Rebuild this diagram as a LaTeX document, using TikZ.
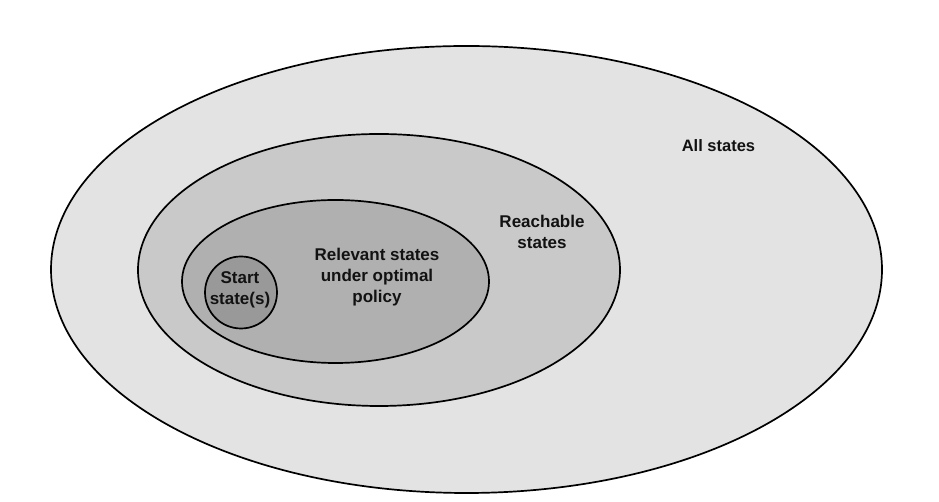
\documentclass[tikz,border=0pt]{standalone}
\usepackage{fontspec}
\setmainfont{Liberation Sans}
\usepackage{tikz}
\usetikzlibrary{positioning}

\begin{document}
\begin{tikzpicture}[x=1pt, y=1pt,
    region/.style={draw=black, line width=1.7pt},
    lbl/.style={font=\fontsize{17}{20.7}\selectfont\bfseries, text=black!93, align=center}]
    \useasboundingbox[fill=white] (0,0) rectangle (939,502);

    % Nested sets of states
    \draw[region, fill=black!11] (466.5,232.5) ellipse (415.5 and 223.5);
    \draw[region, fill=black!21] (379,232) ellipse (241 and 136);
    \draw[region, fill=black!31] (335.5,220.5) ellipse (153.5 and 81.5);
    \draw[region, fill=black!40] (241,209.5) circle (36);

    % Labels
    \node[lbl, font=\fontsize{16.5}{20}\selectfont\bfseries, anchor=base] (all) at (718.5,350) {All states};
    \node[lbl] (reach) at (542,270) {Reachable\\states};
    \node[lbl] (relevant) at (377,225) {Relevant states\\under optimal\\policy};
    \node[lbl] (start) at (240,212) {Start\\state(s)};
\end{tikzpicture}
\end{document}
